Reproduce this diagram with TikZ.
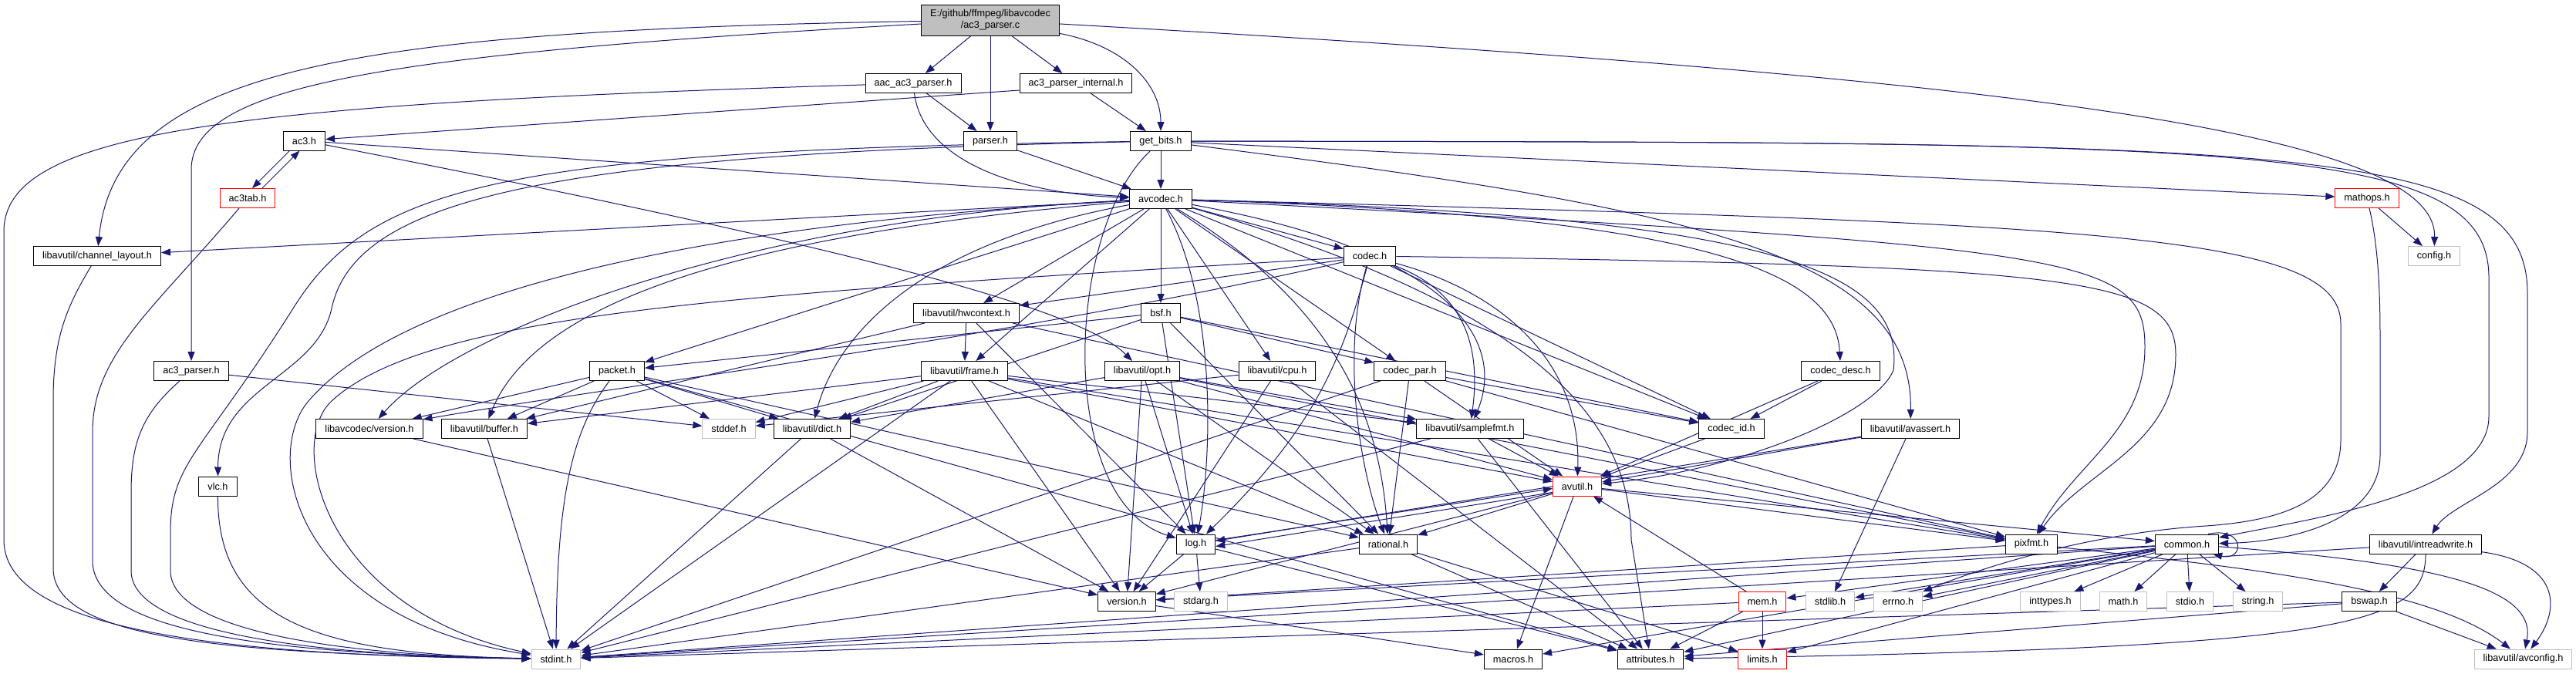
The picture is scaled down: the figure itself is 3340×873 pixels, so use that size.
\documentclass[tikz,border=0pt]{standalone}
\usepackage{fontspec}
\setmainfont{Liberation Sans}
\usepackage{xcolor}
\usepackage{tikz}
\usetikzlibrary{arrows.meta,backgrounds}
\definecolor{edgeblue}{HTML}{191970}
\definecolor{sysgrey}{HTML}{BFBFBF}
\begin{document}
\begin{tikzpicture}[x=1pt, y=1pt, every node/.style={font=\fontsize{12.7}{15}\selectfont},
  file/.style={draw=black, fill=white, line width=1pt, inner xsep=11.5pt, inner ysep=0pt, minimum height=25pt},
  sysfile/.style={file, draw=sysgrey}, cutfile/.style={file, draw=red},
  rootfile/.style={file, fill=sysgrey, align=center, minimum height=40pt},
  dep/.style={draw=edgeblue, line width=1pt, -{Triangle[length=12pt,width=9pt]}}]
\useasboundingbox (0,0) rectangle (3340,-873);
\node[rootfile] (root) at (1284,-26) {E:/github/ffmpeg/libavcodec\\/ac3\_parser.c};
\node[file] (aac) at (1184,-108) {aac\_ac3\_parser.h};
\node[file] (apint) at (1395,-108) {ac3\_parser\_internal.h};
\node[file] (ac3) at (394.5,-182.5) {ac3.h};
\node[file] (parser) at (1284,-183) {parser.h};
\node[file] (getbits) at (1505,-183) {get\_bits.h};
\node[cutfile] (ac3tab) at (321,-257) {ac3tab.h};
\node[file] (avcodec) at (1505,-258) {avcodec.h};
\node[cutfile] (mathops) at (3069,-257) {mathops.h};
\node[file] (chlayout) at (126,-332) {libavutil/channel\_layout.h};
\node[file] (codec) at (1776,-332) {codec.h};
\node[sysfile] (config) at (3156,-332) {config.h};
\node[file] (hwctx) at (1253,-406) {libavutil/hwcontext.h};
\node[file] (bsf) at (1505,-406) {bsf.h};
\node[file] (ac3ph) at (248,-481) {ac3\_parser.h};
\node[file] (packet) at (800,-481) {packet.h};
\node[file] (frame) at (1250.5,-481) {libavutil/frame.h};
\node[file] (opt) at (1481,-481) {libavutil/opt.h};
\node[file] (cpu) at (1656,-481) {libavutil/cpu.h};
\node[file] (codecpar) at (1828,-481) {codec\_par.h};
\node[file] (codecdesc) at (2386.5,-481) {codec\_desc.h};
\node[file] (lavcver) at (479,-556) {libavcodec/version.h};
\node[file] (buffer) at (628,-556) {libavutil/buffer.h};
\node[sysfile] (stddef) at (945,-556) {stddef.h};
\node[file] (dict) at (1053,-556) {libavutil/dict.h};
\node[file] (samplefmt) at (1906,-556) {libavutil/samplefmt.h};
\node[file] (codecid) at (2245,-556) {codec\_id.h};
\node[file] (avassert) at (2477,-556) {libavutil/avassert.h};
\node[file] (vlc) at (282.5,-630.5) {vlc.h};
\node[cutfile] (avutil) at (2045,-630.5) {avutil.h};
\node[file] (log) at (1550.5,-705.5) {log.h};
\node[file] (rational) at (1800,-705.5) {rational.h};
\node[file] (pixfmt) at (2634,-705.5) {pixfmt.h};
\node[file] (common) at (2835.5,-705.5) {common.h};
\node[file] (intrw) at (3145,-705.5) {libavutil/intreadwrite.h};
\node[file] (version) at (1461,-780) {version.h};
\node[sysfile] (stdarg) at (1557,-780) {stdarg.h};
\node[cutfile] (mem) at (2285,-780) {mem.h};
\node[sysfile] (stdlib) at (2373,-780) {stdlib.h};
\node[sysfile] (errno) at (2461,-780) {errno.h};
\node[sysfile] (inttypes) at (2658.5,-780) {inttypes.h};
\node[sysfile] (math) at (2753,-780) {math.h};
\node[sysfile] (stdio) at (2839.5,-780) {stdio.h};
\node[sysfile] (string) at (2927.5,-780) {string.h};
\node[file] (bswap) at (3072,-780) {bswap.h};
\node[sysfile] (stdint) at (721,-854.5) {stdint.h};
\node[file] (macros) at (1962,-854.5) {macros.h};
\node[file] (attr) at (2140,-854.5) {attributes.h};
\node[cutfile] (limits) at (2285,-854.5) {limits.h};
\node[sysfile] (avconfig) at (3271.5,-854.5) {libavutil/avconfig.h};
\begin{scope}[on background layer]
\draw[dep] (root)--(aac); \draw[dep] (root)--(parser); \draw[dep] (root)--(apint);
\draw[dep] (root) .. controls (1460,-60) and (1505,-110) .. (getbits);
\draw[dep] (root) .. controls (2600,-100) and (3160,-170) .. (config);
\draw[dep] (root) .. controls (450,-40) and (150,-90) .. (chlayout);
\draw[dep] (root) .. controls (500,-70) and (248,-110) .. (248,-220) -- (ac3ph);
\draw[dep] (aac)--(parser);
\draw[dep] (aac) .. controls (1195,-200) and (1300,-250) .. (avcodec);
\draw[dep] (aac) .. controls (300,-135) and (5,-170) .. (5,-300) -- (5,-700) .. controls (5,-810) and (250,-850) .. (stdint);
\draw[dep] (apint)--(getbits); \draw[dep] ([yshift=-9pt]apint.west)--(ac3);
\draw[dep] (parser)--(avcodec);
\draw[dep] ([xshift=-19pt]ac3.south)--([xshift=6pt]ac3tab.north);
\draw[dep] ([xshift=19pt]ac3tab.north)--([xshift=-6pt]ac3.south);
\draw[dep] (ac3)--(avcodec);
\draw[dep] (ac3) .. controls (1100,-320) and (1400,-400) .. (opt);
\draw[dep] (ac3tab) .. controls (200,-400) and (120,-460) .. (120,-560) -- (120,-727) .. controls (120,-820) and (350,-848) .. (stdint);
\draw[dep] (chlayout) .. controls (85,-400) and (69,-440) .. (69,-520) -- (69,-737) .. controls (69,-830) and (300,-848) .. (stdint);
\draw[dep] (ac3ph)--(stddef);
\draw[dep] (ac3ph) .. controls (180,-540) and (170,-580) .. (170,-640) -- (170,-740) .. controls (170,-820) and (400,-850) .. (stdint);
\draw[dep] (vlc) .. controls (282,-800) and (400,-848) .. (stdint);
\draw[dep] (getbits)--(avcodec); \draw[dep] (getbits)--(mathops);
\draw[dep] (getbits) .. controls (700,-200) and (460,-260) .. (430,-400) .. controls (410,-490) and (283,-500) .. (vlc);
\draw[dep] (getbits) .. controls (650,-195) and (480,-240) .. (380,-400) .. controls (260,-590) and (221,-600) .. (221,-690) -- (221,-740) .. controls (221,-820) and (450,-850) .. (stdint);
\draw[dep] (getbits) .. controls (1380,-300) and (1370,-650) .. (log);
\draw[dep] (getbits) .. controls (2200,-270) and (2480,-330) .. (avassert);
\draw[dep] (getbits) .. controls (2900,-185) and (3227,-180) .. (3227,-360) -- (3227,-540) .. controls (3227,-640) and (3000,-672) .. (common);
\draw[dep] (getbits) .. controls (2950,-185) and (3277,-180) .. (3277,-380) -- (3277,-560) .. controls (3277,-630) and (3180,-650) .. (intrw);
\draw[dep] (mathops)--(config);
\draw[dep] (mathops) .. controls (3086,-330) and (3086,-400) .. (3086,-450) -- (3086,-590) .. controls (3086,-680) and (2960,-703) .. (common);
\draw[dep] (avcodec)--(chlayout); \draw[dep] (avcodec)--(codec); \draw[dep] (avcodec)--(bsf);
\draw[dep] (avcodec)--(hwctx); \draw[dep] (avcodec)--(frame); \draw[dep] (avcodec)--(packet);
\draw[dep] (avcodec)--(cpu); \draw[dep] (avcodec)--(codecpar); \draw[dep] (avcodec)--(codecid);
\draw[dep] (avcodec) .. controls (1000,-280) and (600,-420) .. (lavcver);
\draw[dep] (avcodec) .. controls (1000,-300) and (700,-380) .. (buffer);
\draw[dep] (avcodec) .. controls (1170,-320) and (1080,-450) .. (dict);
\draw[dep] (avcodec) .. controls (1900,-330) and (1950,-450) .. (samplefmt);
\draw[dep] (avcodec) .. controls (2300,-280) and (2470,-350) .. (2455,-480) .. controls (2430,-540) and (2250,-610) .. (avutil);
\draw[dep] (avcodec) .. controls (1580,-400) and (1570,-600) .. (log);
\draw[dep] (avcodec) .. controls (1740,-400) and (1790,-550) .. (rational);
\draw[dep] (avcodec) .. controls (2200,-280) and (2380,-350) .. (codecdesc);
\draw[dep] (avcodec) .. controls (2000,-400) and (2115,-550) .. (2115,-700) -- (attr);
\draw[dep] (avcodec) .. controls (2700,-320) and (2781,-330) .. (2781,-450) .. controls (2781,-560) and (2690,-600) .. (pixfmt);
\draw[dep] (avcodec) .. controls (2700,-290) and (3035,-300) .. (3035,-420) -- (3035,-570) .. controls (3035,-650) and (2960,-675) .. (2860,-682) .. controls (2700,-692) and (2560,-740) .. (errno);
\draw[dep] (avcodec) .. controls (900,-290) and (520,-380) .. (400,-520) .. controls (340,-590) and (380,-800) .. (stdint);
\draw[dep] (codec)--(hwctx); \draw[dep] (codec)--(codecid);
\draw[dep] (codec) .. controls (1950,-380) and (2050,-470) .. (avutil);
\draw[dep] (codec) .. controls (1740,-470) and (1700,-560) .. (log);
\draw[dep] (codec) .. controls (1740,-450) and (1760,-600) .. (rational);
\draw[dep] (codec) .. controls (1900,-380) and (1920,-450) .. (samplefmt);
\draw[dep] (codec) .. controls (1300,-440) and (800,-500) .. (lavcver);
\draw[dep] (codec) .. controls (2700,-345) and (2821,-360) .. (2821,-460) .. controls (2821,-580) and (2700,-610) .. (pixfmt);
\draw[dep] (codec) .. controls (1000,-380) and (560,-400) .. (430,-520) .. controls (370,-575) and (420,-790) .. (stdint);
\draw[dep] (bsf)--(dict); \draw[dep] (bsf)--(log); \draw[dep] (bsf)--(rational);
\draw[dep] (bsf)--(codecid); \draw[dep] (bsf)--(codecpar); \draw[dep] (bsf)--(packet);
\draw[dep] (codecdesc)--(avutil); \draw[dep] (codecdesc)--(codecid);
\draw[dep] (codecpar)--(stdint); \draw[dep] (codecpar)--(avutil); \draw[dep] (codecpar)--(rational);
\draw[dep] (codecpar)--(codecid); \draw[dep] (codecpar)--(pixfmt);
\draw[dep] (codecid)--(avutil);
\draw[dep] (packet)--(stddef); \draw[dep] (packet)--(buffer); \draw[dep] (packet)--(dict);
\draw[dep] (packet)--(lavcver); \draw[dep] (packet)--(rational); \draw[dep] (packet)--(attr);
\draw[dep] (packet) .. controls (740,-560) and (722,-650) .. (stdint);
\draw[dep] (hwctx)--(buffer); \draw[dep] (hwctx)--(frame); \draw[dep] (hwctx)--(log); \draw[dep] (hwctx)--(pixfmt);
\draw[dep] (frame)--(stddef); \draw[dep] (frame)--(stdint); \draw[dep] (frame)--(avutil);
\draw[dep] (frame)--(buffer); \draw[dep] (frame)--(dict); \draw[dep] (frame)--(rational);
\draw[dep] (frame)--(samplefmt); \draw[dep] (frame)--(pixfmt); \draw[dep] (frame)--(version);
\draw[dep] (opt)--(rational); \draw[dep] (opt)--(avutil); \draw[dep] (opt)--(dict); \draw[dep] (opt)--(log);
\draw[dep] (opt)--(pixfmt); \draw[dep] (opt)--(samplefmt); \draw[dep] (opt)--(version);
\draw[dep] (cpu)--(stddef); \draw[dep] (cpu)--(attr); \draw[dep] (cpu)--(version);
\draw[dep] (samplefmt)--(stdint); \draw[dep] (samplefmt)--(avutil); \draw[dep] (samplefmt)--(attr);
\draw[dep] (dict)--(stdint); \draw[dep] (dict)--(version);
\draw[dep] (buffer)--(stdint);
\draw[dep] (avassert)--(stdlib); \draw[dep] (avassert)--(avutil); \draw[dep] (avassert)--(log);
\draw[dep] (avutil)--(common); \draw[dep] (avutil)--(rational); \draw[dep] (avutil)--(version);
\draw[dep] (avutil)--(macros); \draw[dep] (avutil)--(pixfmt);
\draw[dep] ([yshift=-8pt]avutil.west)--([yshift=-3pt]log.east);
\draw[dep] ([yshift=5pt]log.east)--([yshift=-3pt]avutil.west);
\draw[dep] (log)--(stdarg); \draw[dep] (log)--(attr); \draw[dep] (log)--(version);
\draw[dep] (rational)--(stdint); \draw[dep] (rational)--(limits); \draw[dep] (rational)--(attr);
\draw[dep] (version)--(macros); \draw[dep] (lavcver)--(version);
\draw[dep] (pixfmt)--(version);
\draw[dep] (pixfmt) .. controls (2900,-735) and (3150,-760) .. (avconfig);
\draw[dep] (common)--(errno); \draw[dep] (common)--(inttypes); \draw[dep] (common)--(limits);
\draw[dep] (common)--(math); \draw[dep] (common)--(stdint); \draw[dep] (common)--(stdio);
\draw[dep] (common)--(stdlib); \draw[dep] (common)--(string); \draw[dep] (common)--(attr);
\draw[dep] (common)--(macros); \draw[dep] (common)--(version); \draw[dep] (common)--(mem);
\draw[dep] (common) .. controls (3150,-730) and (3290,-760) .. (avconfig);
\draw[dep] ([xshift=-14pt]common.north east) .. controls (2911,-682) and (2911,-728) .. ([xshift=-8pt]common.south east);
\draw[dep] (mem)--(limits); \draw[dep] (mem)--(stdint); \draw[dep] (mem)--(attr); \draw[dep] (mem)--(avutil);
\draw[dep] (intrw)--(stdint); \draw[dep] (intrw)--(bswap);
\draw[dep] (intrw) .. controls (3320,-730) and (3320,-790) .. (avconfig);
\draw[dep] (intrw) .. controls (3145,-810) and (3050,-840) .. (attr);
\draw[dep] (bswap)--(stdint); \draw[dep] (bswap)--(avconfig); \draw[dep] (bswap)--(attr);
\end{scope}
\end{tikzpicture}
\end{document}
